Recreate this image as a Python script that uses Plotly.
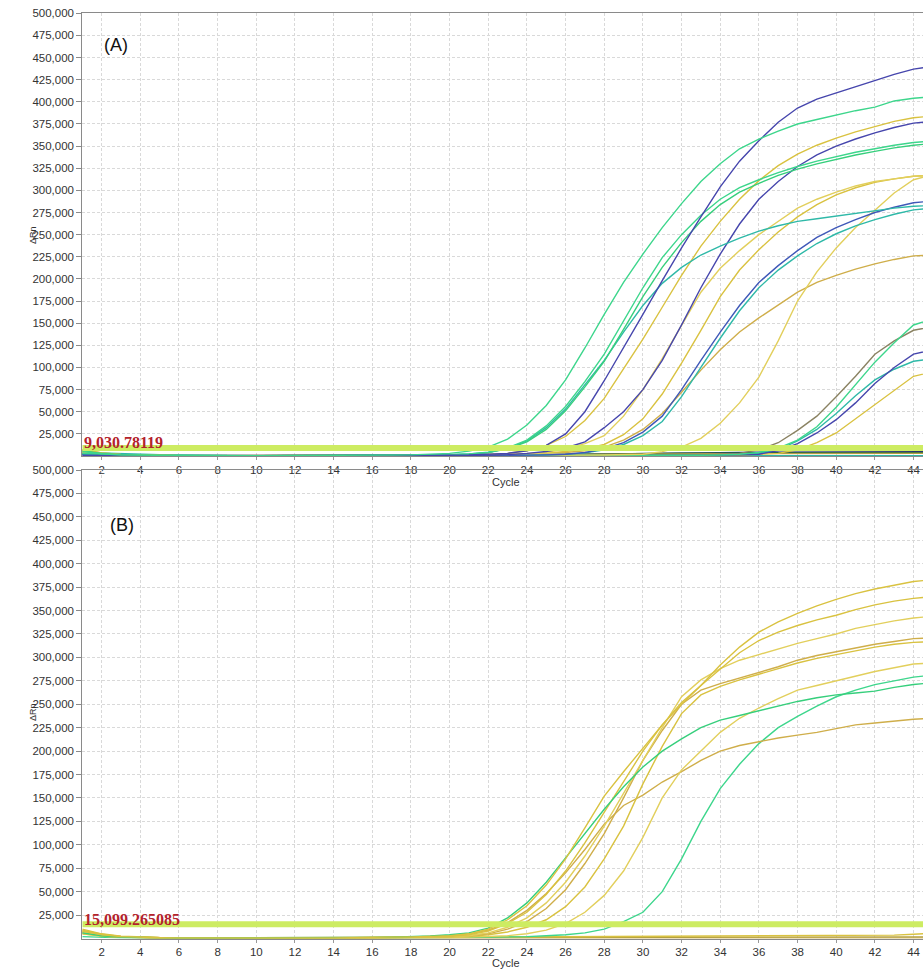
import plotly.graph_objects as go

cycles = list(range(1, 46))
y_ticks = list(range(25000, 500001, 25000))
x_ticks = list(range(2, 45, 2))
threshold_A = 9030.78119
threshold_B = 15099.265085
threshold_A_label = "9,030.78119"
threshold_B_label = "15,099.265085"

# ---------------- Panel (A) curves, ΔRn in thousands, cycles 1..45 ----------------
a_g1 = [5,2.5,1.2,0.8,0.5,0.4,0.3,0.3,0.3,0.3, 0.3,0.4,0.4,0.5,0.6,0.8,1,1.3,2,3,
        5.5,10,19,35,57,86,122,160,196,228, 258,285,310,330,347,358,367,375,380,385,
        390,394,401,404,406]
a_g2 = [3,1.5,0.8,0.5,0.3,0.2,0.2,0.2,0.2,0.2, 0.2,0.2,0.3,0.3,0.4,0.5,0.6,0.8,1,1.4,
        2.2,4,9,18,34,56,84,115,152,190, 224,250,272,290,303,312,320,327,333,338,
        343,347,351,354,356]
a_g3 = [6,3,1.5,0.8,0.5,0.3,0.2,0.2,0.2,0.2, 0.2,0.2,0.2,0.3,0.3,0.4,0.5,0.7,0.9,1.3,
        2,3.8,8,16,30,51,78,107,143,180, 213,241,265,284,298,308,317,324,330,335,
        340,344,348,351,353]
a_t1 = [2,1,0.5,0.3,0.2,0.2,0.2,0.2,0.2,0.2, 0.2,0.2,0.3,0.3,0.4,0.5,0.6,0.8,1.1,1.5,
        2.3,4.2,8.5,17,32,53,80,108,140,170, 195,213,227,237,246,254,260,265,268,271,
        274,277,280,282,283]
a_b1 = [1,0.5,0.3,0.2,0.2,0.2,0.1,0.1,0.1,0.1, 0.1,0.1,0.1,0.2,0.2,0.3,0.4,0.5,0.7,0.9,
        1.2,2,3,6,12,25,50,85,122,160, 198,235,270,304,333,356,377,393,403,410,
        417,424,431,437,440]
a_b2 = [1,0.5,0.3,0.2,0.1,0.1,0.1,0.1,0.1,0.1, 0.1,0.1,0.1,0.1,0.2,0.2,0.3,0.3,0.4,0.5,
        0.7,1,1.5,3,5,9,16,32,50,75, 108,148,190,228,262,290,310,327,340,350,
        358,365,371,376,378]
a_y1 = [7,3.5,1.8,1,0.6,0.4,0.3,0.3,0.3,0.3, 0.3,0.3,0.3,0.3,0.4,0.4,0.5,0.6,0.8,1,
        1.3,2,3,6,12,22,40,65,98,132, 168,204,237,265,290,311,328,341,351,359,
        366,372,378,382,384]
a_y2 = [4,2,1,0.6,0.4,0.3,0.3,0.2,0.2,0.2, 0.2,0.2,0.2,0.2,0.3,0.3,0.3,0.4,0.5,0.6,
        0.8,1,1.5,2,4,8,14,23,45,75, 110,148,185,212,232,250,265,280,290,298,
        305,310,313,316,317]
a_y3 = [5,2.5,1.3,0.7,0.4,0.3,0.2,0.2,0.2,0.2, 0.2,0.2,0.2,0.2,0.2,0.3,0.3,0.3,0.4,0.5,
        0.6,0.8,1,1.5,3,5,8,13,24,42, 70,105,142,180,210,233,253,270,284,295,
        303,309,313,316,317]
a_y4 = [3,1.5,0.8,0.5,0.3,0.2,0.2,0.2,0.2,0.2, 0.2,0.2,0.2,0.2,0.2,0.2,0.2,0.3,0.3,0.3,
        0.4,0.4,0.5,0.6,0.7,0.8,1,1.2,1.5,2, 5,10,20,37,60,89,130,175,208,235,
        258,278,297,312,318]
a_y5 = [6,3,1.5,0.8,0.5,0.4,0.3,0.3,0.3,0.3, 0.3,0.3,0.3,0.3,0.4,0.4,0.5,0.6,0.7,0.9,
        1.1,1.5,2,3,3.5,4,6,10,18,30, 48,72,97,120,140,156,171,185,196,204,
        211,217,222,226,227]
a_b3 = [2,1,0.5,0.3,0.2,0.2,0.2,0.2,0.2,0.2, 0.2,0.2,0.2,0.2,0.2,0.3,0.3,0.3,0.4,0.4,
        0.5,0.6,0.8,1,1.3,2,4,8,15,27, 45,75,108,140,170,196,215,232,247,258,
        267,275,281,286,288]
a_t2 = [3,1.5,0.8,0.5,0.3,0.2,0.2,0.2,0.2,0.2, 0.2,0.2,0.2,0.2,0.2,0.3,0.3,0.3,0.4,0.4,
        0.5,0.6,0.7,0.9,1.2,1.8,3.5,7,13,23, 39,67,100,133,164,190,210,226,240,251,
        260,267,273,278,280]
a_l1 = [4,2,1,0.6,0.4,0.3,0.3,0.3,0.3,0.3, 0.3,0.3,0.3,0.3,0.3,0.3,0.3,0.3,0.3,0.3,
        0.3,0.3,0.3,0.3,0.3,0.4,0.4,0.4,0.5,0.5, 0.6,0.8,1.2,2,3,7,15,29,45,67,
        90,115,130,142,146]
a_l2 = [2,1,0.5,0.3,0.2,0.2,0.2,0.2,0.2,0.2, 0.2,0.2,0.2,0.2,0.2,0.2,0.2,0.2,0.2,0.2,
        0.2,0.2,0.2,0.2,0.3,0.3,0.3,0.3,0.4,0.4, 0.5,0.6,0.8,1.2,2,4,9,18,33,55,
        80,106,128,148,155]
a_l3 = [1,0.5,0.3,0.2,0.2,0.2,0.2,0.2,0.2,0.2, 0.2,0.2,0.2,0.2,0.2,0.2,0.2,0.2,0.2,0.2,
        0.2,0.2,0.2,0.2,0.2,0.3,0.3,0.3,0.3,0.4, 0.4,0.5,0.7,1,1.4,2,6,14,26,41,
        60,82,100,115,120]
a_l4 = [3,1.5,0.8,0.5,0.3,0.2,0.2,0.2,0.2,0.2, 0.2,0.2,0.2,0.2,0.2,0.2,0.2,0.2,0.2,0.2,
        0.2,0.2,0.2,0.2,0.3,0.3,0.3,0.3,0.4,0.4, 0.5,0.6,0.8,1.2,2,3,7,17,30,48,
        68,86,98,107,110]
a_l5 = [5,2.5,1.2,0.7,0.4,0.3,0.3,0.3,0.3,0.3, 0.3,0.3,0.3,0.3,0.3,0.3,0.3,0.3,0.3,0.3,
        0.3,0.3,0.3,0.3,0.3,0.4,0.4,0.4,0.4,0.5, 0.5,0.6,0.7,0.9,1.2,1.8,3,7,15,26,
        42,58,75,90,95]
a_n1 = [2,1,0.5,0.3,0.3,0.3,0.3,0.3,0.3,0.3, 0.3,0.3,0.3,0.3,0.3,0.3,0.3,0.3,0.4,0.4,
        0.5,0.8,1,1.3,1.6,2,2.3,2.6,3,3.2, 3.4,3.6,3.8,4,4.1,4.2,4.3,4.4,4.5,4.5,
        4.6,4.6,4.7,4.7,4.8]
a_n2 = [3,1.5,0.8,0.5,0.3,0.3,0.3,0.3,0.3,0.3, 0.3,0.3,0.3,0.3,0.3,0.3,0.4,0.4,0.5,0.6,
        0.7,0.9,1.1,1.4,1.7,2,2.2,2.4,2.6,2.8, 3,3.1,3.2,3.3,3.4,3.5,3.5,3.6,3.6,3.7,
        3.7,3.8,3.8,3.9,3.9]
a_n3 = [7,3.5,1.8,1,0.7,0.5,0.5,0.5,0.5,0.5, 0.5,0.5,0.5,0.5,0.5,0.5,0.6,0.6,0.7,0.8,
        0.9,1,1.2,1.4,1.6,1.8,2,2.1,2.2,2.3, 2.4,2.5,2.5,2.6,2.6,2.7,2.7,2.8,2.8,2.9,
        2.9,3,3,3,3]
a_n4 = [4,3.2,2.6,2,1.5,1.1,0.7,0.3,0.2,0.2, 0.2,0.2,0.2,0.2,0.2,0.2,0.2,0.2,0.2,0.2,
        0.2,0.2,0.2,0.2,0.2,0.2,0.2,0.2,0.2,0.2, 0.2,0.2,0.2,0.2,0.2,0.2,0.2,0.2,0.2,0.2,
        0.2,0.2,0.2,0.2,0.2]

# ---------------- Panel (B) curves, ΔRn in thousands, cycles 1..45 ----------------
b_g1 = [6,3,1.5,1,0.8,0.6,0.5,0.5,0.5,0.5, 0.5,0.6,0.7,0.8,1,1.2,1.5,2,2.8,4,
        6,11,22,38,60,86,112,138,162,183, 200,213,225,233,238,243,248,253,257,260,
        262,264,268,271,273]
b_y1 = [8,4,2,1.2,0.8,0.6,0.5,0.5,0.5,0.5, 0.5,0.5,0.6,0.7,0.8,1,1.3,1.7,2.3,3,
        5,10,20,35,57,85,118,152,178,203, 228,250,270,292,311,327,338,347,355,362,
        368,373,377,381,383]
b_y2 = [5,2.5,1.3,0.8,0.6,0.5,0.4,0.4,0.4,0.4, 0.4,0.4,0.5,0.6,0.7,0.8,1,1.3,1.6,2,
        4,8,16,28,47,72,102,135,168,200, 228,252,270,288,305,318,327,334,340,345,
        351,356,360,363,365]
b_y3 = [7,3.5,1.8,1,0.7,0.5,0.4,0.4,0.4,0.4, 0.4,0.4,0.5,0.5,0.6,0.7,0.9,1.1,1.5,2,
        3,6,12,22,38,60,88,120,155,190, 225,258,276,288,297,303,309,315,320,325,
        331,335,339,342,344]
b_y4 = [6,3,1.5,0.9,0.6,0.5,0.4,0.4,0.4,0.4, 0.4,0.4,0.4,0.5,0.6,0.7,0.9,1.1,1.5,2,
        3,5,10,18,32,52,80,112,150,190, 222,250,265,272,278,284,290,297,302,306,
        310,314,317,320,321]
b_y5 = [9,4.5,2.2,1.3,0.8,0.6,0.5,0.5,0.5,0.5, 0.5,0.5,0.5,0.5,0.6,0.7,0.8,1,1.2,1.5,
        2,4,7,12,20,34,55,85,120,165, 205,240,260,269,276,282,288,294,299,303,
        307,311,314,316,317]
b_y6 = [5,2.5,1.2,0.8,0.5,0.4,0.4,0.4,0.4,0.4, 0.4,0.4,0.4,0.4,0.5,0.5,0.6,0.7,0.9,1.1,
        1.5,2,3,5,9,16,28,46,72,108, 150,180,200,220,235,246,256,265,270,275,
        280,285,289,293,294]
b_y7 = [7,3.5,1.8,1,0.7,0.5,0.5,0.5,0.5,0.5, 0.5,0.5,0.6,0.7,0.8,1,1.3,1.7,2.2,3,
        5,9,17,30,48,70,95,122,142,153, 167,178,190,200,206,210,214,217,220,224,
        228,230,232,234,235]
b_g2 = [2,1,0.7,0.6,0.5,0.5,0.5,0.5,0.5,0.5, 0.5,0.5,0.5,0.6,0.6,0.7,0.7,0.8,0.9,1,
        1.2,1.5,1.7,2,3,4,6,10,18,28, 50,85,125,160,186,208,225,237,248,258,
        265,271,275,279,281]
b_n1 = [10,5,2.5,1.5,1,0.8,0.7,0.7,0.7,0.7, 0.7,0.7,0.7,0.8,0.8,0.9,1,1.1,1.2,1.3,
        1.4,1.5,1.6,1.7,1.8,1.9,2,2.1,2.2,2.3, 2.4,2.5,2.5,2.6,2.6,2.7,2.7,2.8,2.8,2.9,
        3,3.2,3.6,4.5,5.5]
b_n2 = [6,3,1.5,0.9,0.6,0.5,0.5,0.5,0.5,0.5, 0.5,0.5,0.5,0.5,0.5,0.5,0.6,0.6,0.7,0.7,
        0.8,0.9,1,1,1.1,1.1,1.2,1.2,1.3,1.3, 1.3,1.4,1.4,1.4,1.5,1.5,1.5,1.5,1.6,1.6,
        1.6,1.6,1.7,1.7,1.7]
b_n3 = [8,4,2,1.2,0.8,0.6,0.5,0.5,0.5,0.5, 0.5,0.5,0.5,0.5,0.5,0.5,0.5,0.5,0.5,0.5,
        0.5,0.5,0.5,0.5,0.5,0.5,0.5,0.5,0.5,0.5, 0.5,0.5,0.5,0.5,0.5,0.5,0.5,0.5,0.5,0.5,
        0.5,0.5,0.5,0.5,0.5]

GREEN = "#3dd68c"
GREEN2 = "#36cf7c"
TEAL = "#2fb9a8"
BLUE = "#4646ad"
BLUE2 = "#3f58b8"
YEL = "#d9c240"
YEL2 = "#e2cf5c"
OCHRE = "#cfae4a"
GRAY = "#8a8262"
NAVY = "#27346e"
DKGREEN = "#2f6b45"
OLIVE = "#b4a040"

panel_A = [
    (a_n1, NAVY), (a_n2, DKGREEN), (a_n3, OLIVE), (a_n4, TEAL),
    (a_l5, YEL), (a_l4, TEAL), (a_l3, BLUE), (a_l1, GRAY), (a_l2, GREEN),
    (a_y5, OCHRE), (a_y4, YEL2), (a_y3, YEL), (a_y2, YEL2),
    (a_t2, TEAL), (a_b3, BLUE2), (a_y1, YEL), (a_b2, BLUE),
    (a_t1, TEAL), (a_g3, GREEN2), (a_g2, GREEN), (a_b1, BLUE), (a_g1, GREEN),
]
panel_B = [
    (b_n3, OCHRE), (b_n2, OLIVE), (b_n1, YEL),
    (b_g2, GREEN), (b_y7, OCHRE), (b_y6, YEL2), (b_y5, YEL), (b_y4, OCHRE),
    (b_y3, YEL2), (b_y2, YEL), (b_g1, GREEN2), (b_y1, YEL),
]

fig = go.Figure()
for vals, col in panel_A:
    fig.add_trace(go.Scatter(x=cycles, y=[v * 1000 for v in vals], mode="lines",
                             line=dict(color=col, width=1.4), xaxis="x", yaxis="y",
                             showlegend=False, hoverinfo="skip"))
for vals, col in panel_B:
    fig.add_trace(go.Scatter(x=cycles, y=[v * 1000 for v in vals], mode="lines",
                             line=dict(color=col, width=1.4), xaxis="x2", yaxis="y2",
                             showlegend=False, hoverinfo="skip"))

# threshold bands
for thr, xa, ya in [(threshold_A, "x", "y"), (threshold_B, "x2", "y2")]:
    fig.add_trace(go.Scatter(x=[cycles[0], cycles[-1]], y=[thr, thr], mode="lines",
                             line=dict(color="#cdec62", width=6), xaxis=xa, yaxis=ya,
                             showlegend=False, hoverinfo="skip"))

W, H = 923, 975
x_left = 82.3 / W
A_dom = [1 - 456 / H, 1 - 13.3 / H]
B_dom = [1 - 938.5 / H, 1 - 470 / H]

tickfont = dict(family="Liberation Sans, Arial, sans-serif", size=11.5, color="#333333")
common_x = dict(range=[1, 44.49], tickmode="array", tickvals=x_ticks,
                showgrid=True, gridcolor="#d9d9d9", griddash="3px,2px", gridwidth=1,
                showline=True, linecolor="#8a8a8a", linewidth=1, mirror=True,
                ticks="outside", ticklen=3, tickcolor="#999999", tickfont=tickfont,
                zeroline=False, domain=[x_left, 1], automargin=False)
common_y = dict(range=[0, 500000], tickmode="array", tickvals=y_ticks, tickformat=",d",
                showgrid=True, gridcolor="#d9d9d9", griddash="3px,2px", gridwidth=1,
                showline=True, linecolor="#8a8a8a", linewidth=1,
                ticks="outside", ticklen=5, tickcolor="#8a8a8a", tickfont=tickfont,
                zeroline=False, automargin=False)

fig.update_layout(
    width=W, height=H, margin=dict(l=0, r=0, t=0, b=0, pad=0),
    paper_bgcolor="white", plot_bgcolor="white", hovermode=False,
    xaxis=dict(**common_x, anchor="y"),
    yaxis=dict(**common_y, domain=A_dom, anchor="x"),
    xaxis2=dict(**common_x, anchor="y2"),
    yaxis2=dict(**common_y, domain=B_dom, anchor="x2"),
)

lab = dict(family="Liberation Sans, Arial, sans-serif", size=11, color="#333333")
ann = [
    dict(text="Cycle", x=506 / W, y=1 - 482 / H, font=lab),
    dict(text="Cycle", x=506 / W, y=1 - 963 / H, font=lab),
    dict(text="ΔRn", x=33 / W, y=1 - 235 / H, textangle=-90,
         font=dict(family="Liberation Sans, Arial, sans-serif", size=9, color="#333")),
    dict(text="ΔRn", x=33 / W, y=1 - 712 / H, textangle=-90,
         font=dict(family="Liberation Sans, Arial, sans-serif", size=9, color="#333")),
    dict(text="(A)", x=116 / W, y=1 - 45 / H,
         font=dict(family="Liberation Sans, Arial, sans-serif", size=18, color="#111")),
    dict(text="(B)", x=122 / W, y=1 - 525 / H,
         font=dict(family="Liberation Sans, Arial, sans-serif", size=18, color="#111")),
    dict(text="<b>" + threshold_A_label + "</b>", x=82 / W, y=1 - 442 / H, xanchor="left",
         font=dict(family="Liberation Serif, Times New Roman, serif", size=16, color="#b3222b")),
    dict(text="<b>" + threshold_B_label + "</b>", x=82 / W, y=1 - 919 / H, xanchor="left",
         font=dict(family="Liberation Serif, Times New Roman, serif", size=16, color="#b3222b")),
]
for a in ann:
    a.setdefault("xanchor", "center")
    a.update(xref="paper", yref="paper", yanchor="middle", showarrow=False)
fig.update_layout(annotations=ann)

fig.write_html("out.html", config={"displayModeBar": False, "staticPlot": True},
               post_script="document.body.style.margin='0';document.body.style.overflow='hidden';")
